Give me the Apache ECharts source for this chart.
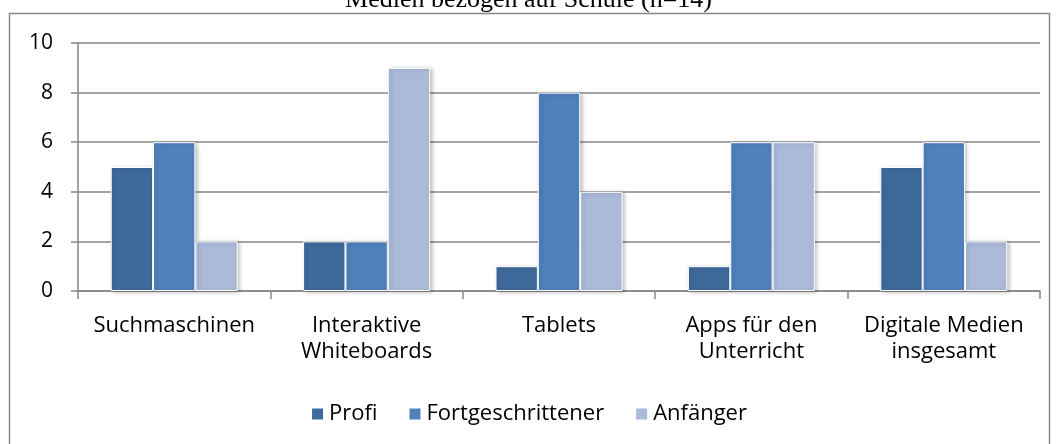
<!DOCTYPE html>
<html>
<head>
<meta charset="utf-8">
<script src="https://cdn.jsdelivr.net/npm/echarts@6/dist/echarts.min.js"></script>
<style>
  html, body { margin: 0; padding: 0; background: #fff; }
  #main { width: 1057px; height: 444px; }
</style>
</head>
<body>
<div id="main"></div>
<script>
// Daten
var categories = ['Suchmaschinen', 'Interaktive\nWhiteboards', 'Tablets', 'Apps für den\nUnterricht', 'Digitale Medien\ninsgesamt'];
var profi = [5, 2, 1, 1, 5];
var fortgeschrittener = [6, 2, 8, 6, 6];
var anfaenger = [2, 9, 4, 6, 2];
var yTicks = [0, 2, 4, 6, 8, 10];

var myChart = echarts.init(document.getElementById('main'));

var barStyle = function (color) {
    return {
        color: color,
        borderColor: '#fff',
        borderWidth: 1,
        shadowBlur: 4,
        shadowOffsetX: 2,
        shadowOffsetY: 1,
        shadowColor: 'rgba(0,0,0,0.25)'
    };
};

var option = {
    animation: false,
    title: {
        text: 'Medien bezogen auf Schule (n=14)',
        left: 'center',
        top: -18,
        textStyle: { fontFamily: 'Liberation Serif', fontSize: 26, fontWeight: 'normal', color: '#000' }
    },
    graphic: [{
        type: 'rect',
        shape: { x: 9.5, y: 13.5, width: 1040, height: 440 },
        style: { fill: 'none', stroke: '#888', lineWidth: 1.5 },
        z: -1
    }],
    legend: {
        top: 398,
        left: 'center',
        itemWidth: 13,
        itemHeight: 13,
        itemGap: 30,
        icon: 'rect',
        textStyle: { fontFamily: 'Open Sans', fontSize: 22, color: '#000' },
        data: ['Profi', 'Fortgeschrittener', 'Anfänger']
    },
    grid: { left: 78, right: 17, top: 43, bottom: 153 },
    xAxis: {
        type: 'category',
        data: categories,
        axisLine: { lineStyle: { color: '#868686', width: 1.5 } },
        axisTick: { show: true, interval: 0, length: 8, lineStyle: { color: '#868686', width: 1.5 } },
        axisLabel: { interval: 0, fontFamily: 'Open Sans', fontSize: 22, color: '#000', margin: 22, lineHeight: 26 }
    },
    yAxis: {
        type: 'value',
        min: yTicks[0],
        max: yTicks[yTicks.length - 1],
        interval: 2,
        axisLine: { show: true, lineStyle: { color: '#868686', width: 1.5 } },
        axisTick: { show: true, length: 7, lineStyle: { color: '#868686', width: 1.5 } },
        splitLine: { lineStyle: { color: '#868686', width: 1.5 } },
        axisLabel: { fontFamily: 'Open Sans', fontSize: 21, color: '#000', margin: 25 }
    },
    series: [
        { name: 'Profi', type: 'bar', data: profi, barGap: '0%', barCategoryGap: '34%', itemStyle: barStyle('#3F6A9C') },
        { name: 'Fortgeschrittener', type: 'bar', data: fortgeschrittener, itemStyle: barStyle('#4F81BD') },
        { name: 'Anfänger', type: 'bar', data: anfaenger, itemStyle: barStyle('#AABAD8') }
    ]
};

myChart.setOption(option);
</script>
</body>
</html>
